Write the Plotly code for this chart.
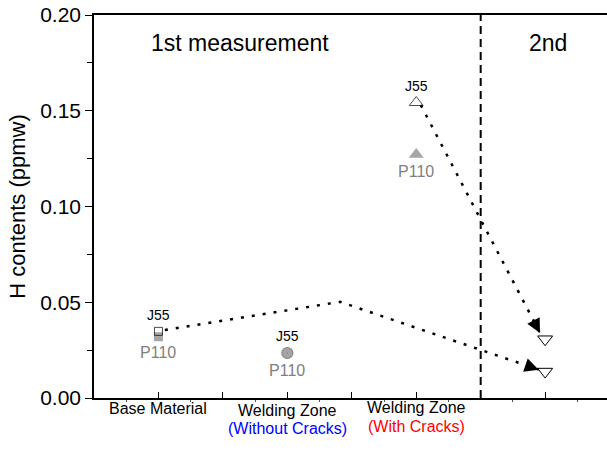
import plotly.graph_objects as go

# ---- data ----
categories = ["Base Material", "Welding Zone", "Welding Zone", "2nd"]
cat_x = [1, 3, 5, 7]
sub_labels = ["", "(Without Cracks)", "(With Cracks)"]
sub_colors = ["black", "blue", "red"]

j55_x = [1, 3, 5]
j55_y = [0.0348, 0.0235, 0.1543]
p110_x = [1, 3, 5]
p110_y = [0.0320, 0.0235, 0.1271]
second_x = [7, 7]
second_y = [0.0307, 0.0138]

# dotted path (base J55 -> peak -> lower 2nd) and (crack J55 -> upper 2nd)
path1_x = [1.1, 3.82, 6.9]
path1_y = [0.0355, 0.0502, 0.0148]
path2_x = [5.07, 6.92]
path2_y = [0.1530, 0.0340]

y_ticks = [0.00, 0.05, 0.10, 0.15, 0.20]
x_ticks = [1, 2, 3, 4, 5, 6, 7]
divider_x = 6

FONT = "Arial, Liberation Sans, sans-serif"
GRAY = "#808080"

fig = go.Figure()

# dotted connection lines
for px, py in [(path1_x, path1_y), (path2_x, path2_y)]:
    fig.add_trace(go.Scatter(x=px, y=py, mode="lines",
                             line=dict(color="black", width=2.5, dash="3px,8px"),
                             showlegend=False, hoverinfo="skip"))

# P110 markers (filled gray)
fig.add_trace(go.Scatter(x=p110_x, y=p110_y, mode="markers",
                         marker=dict(symbol=["square", "circle", "triangle-up"],
                                     size=[9, 11, 13], color=GRAY,
                                     line=dict(color="#555555", width=[0, 1.2, 0])),
                         showlegend=False))
# J55 markers (open)
fig.add_trace(go.Scatter(x=j55_x, y=j55_y, mode="markers",
                         marker=dict(symbol=["square-open", "circle-open", "triangle-up-open"],
                                     size=[8, 0.1, 12], color="black",
                                     line=dict(width=1)),
                         showlegend=False))
# 2nd measurement markers
fig.add_trace(go.Scatter(x=second_x, y=second_y, mode="markers",
                         marker=dict(symbol="triangle-down-open", size=13, color="black",
                                     line=dict(width=1)),
                         showlegend=False))

ann = []
# arrowheads at path ends
for px, py in [(path1_x, path1_y), (path2_x, path2_y)]:
    ann.append(dict(x=px[-1], y=py[-1], ax=px[-1] - (px[-1] - px[-2]) * 0.06,
                    ay=py[-1] - (py[-1] - py[-2]) * 0.06,
                    xref="x", yref="y", axref="x", ayref="y", text="",
                    showarrow=True, arrowhead=2, arrowsize=1.4, arrowwidth=2,
                    arrowcolor="black"))

# J55 / P110 labels
for x, y, dy in zip(j55_x, j55_y, [16, 17, 17]):
    ann.append(dict(x=x, y=y, xref="x", yref="y", text="J55", showarrow=False,
                    yshift=dy, font=dict(family=FONT, size=14, color="black")))
for x, y, dy in zip(p110_x, p110_y, [-16, -17, -17]):
    ann.append(dict(x=x, y=y, xref="x", yref="y", text="P110", showarrow=False,
                    yshift=dy, font=dict(family=FONT, size=16, color=GRAY)))

# category labels (paper coordinates, below the axis)
cat_py = [-0.0556, -0.0593, -0.0514]
sub_py = [None, -0.1078, -0.1026]
for x, name, sub, col, cy, sy in zip(cat_x[:3], categories[:3], sub_labels, sub_colors, cat_py, sub_py):
    ann.append(dict(x=x, y=cy, xref="x", yref="paper", text=name, showarrow=False,
                    font=dict(family=FONT, size=16, color="black")))
    if sub:
        ann.append(dict(x=x, y=sy, xref="x", yref="paper", text=sub, showarrow=False,
                        font=dict(family=FONT, size=16, color=col)))

# section titles
ann.append(dict(x=2.27, y=0.1855, xref="x", yref="y", text="1st measurement",
                showarrow=False, font=dict(family=FONT, size=23, color="black")))
ann.append(dict(x=7.05, y=0.1855, xref="x", yref="y", text=categories[3],
                showarrow=False, font=dict(family=FONT, size=23, color="black")))

fig.add_shape(type="line", x0=divider_x, x1=divider_x, y0=0, y1=0.2,
              xref="x", yref="y", line=dict(color="black", width=2, dash="8px,5px"))

fig.update_layout(
    width=607, height=451,
    margin=dict(l=94, r=0, t=15, b=53),
    plot_bgcolor="white", paper_bgcolor="white",
    font=dict(family=FONT, color="black"),
    annotations=ann,
    xaxis=dict(range=[0, 7.96], tickvals=x_ticks, ticktext=[""] * len(x_ticks),
               ticks="inside", ticklen=6, tickwidth=1.2, tickcolor="black",
               minor=dict(dtick=1, tick0=0.5, ticks="outside", ticklen=2, tickcolor="#555"),
               showline=True, linecolor="black", linewidth=1.5, mirror=True,
               showgrid=False, zeroline=False),
    yaxis=dict(range=[0, 0.2], tickvals=y_ticks, ticktext=[f"{v:.2f}" for v in y_ticks],
               ticks="outside", ticklen=7, tickwidth=1.2, tickcolor="black",
               minor=dict(dtick=0.025, tick0=0.025, ticks="outside", ticklen=5, tickcolor="black"),
               showline=True, linecolor="black", linewidth=1.5,
               showgrid=False, zeroline=False,
               tickfont=dict(family=FONT, size=21),
               title=dict(text="H contents (ppmw)", font=dict(family=FONT, size=22), standoff=8)),
)

fig.write_html("out.html", config={"displayModeBar": False},
               post_script="document.body.style.margin='0';")
